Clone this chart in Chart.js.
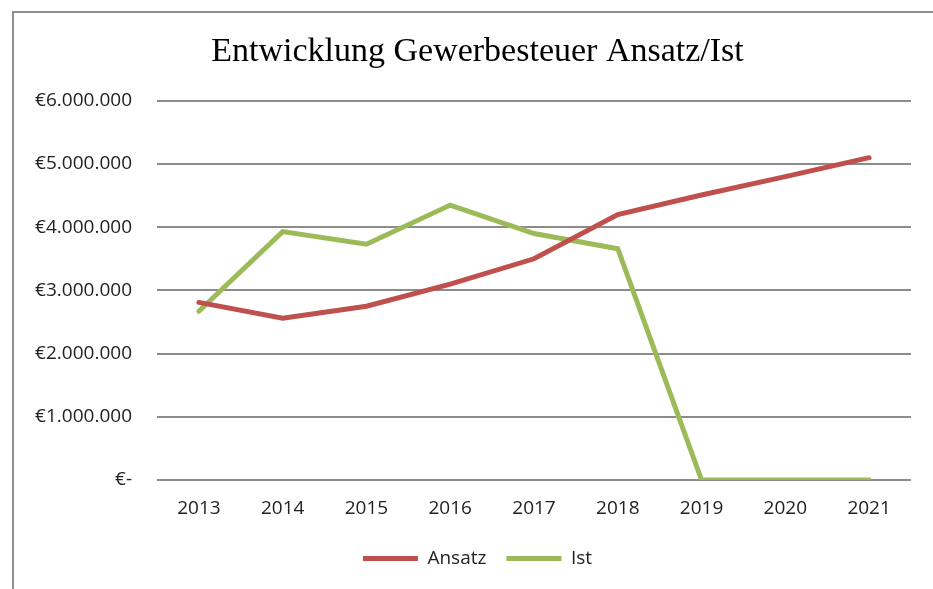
<!DOCTYPE html>
<html>
<head>
<meta charset="utf-8">
<script src="https://cdn.jsdelivr.net/npm/chart.js@4"></script>
<style>
  html, body { margin: 0; padding: 0; background: #fff; }
  #wrap { position: relative; width: 933px; height: 589px; overflow: hidden; }
  #frame {
    position: absolute; left: 12px; top: 11px; width: 940px; height: 600px;
    border-left: 2px solid #8e8e8e; border-top: 2px solid #8e8e8e;
    pointer-events: none;
  }
</style>
</head>
<body>
<div id="wrap">
  <canvas id="chart" width="933" height="589"></canvas>
  <div id="frame"></div>
</div>
<script>
const years = ['2013', '2014', '2015', '2016', '2017', '2018', '2019', '2020', '2021'];
const ansatz = [2810000, 2560000, 2750000, 3100000, 3500000, 4200000, 4510000, 4800000, 5100000];
const ist = [2670000, 3930000, 3730000, 4350000, 3900000, 3660000, 0, 0, 0];
const yTicks = [0, 1000000, 2000000, 3000000, 4000000, 5000000, 6000000];

function euro(v) {
  if (v === 0) return '€-';
  return '€' + String(Math.round(v)).replace(/\B(?=(\d{3})+(?!\d))/g, '.');
}

const tickFont = { family: '"Open Sans", sans-serif', size: 19 };

new Chart(document.getElementById('chart').getContext('2d'), {
  type: 'line',
  data: {
    labels: years,
    datasets: [
      {
        label: 'Ansatz',
        data: ansatz,
        borderColor: '#c0504d',
        backgroundColor: '#c0504d',
        borderWidth: 5,
        borderCapStyle: 'round',
        pointRadius: 0,
        tension: 0,
        fill: false
      },
      {
        label: 'Ist',
        data: ist,
        borderColor: '#9bbb59',
        backgroundColor: '#9bbb59',
        borderWidth: 5,
        borderCapStyle: 'round',
        pointRadius: 0,
        tension: 0,
        fill: false
      }
    ]
  },
  options: {
    responsive: false,
    animation: false,
    layout: { padding: { left: 22, right: 0, top: 0, bottom: 11 } },
    plugins: {
      title: {
        display: true,
        text: 'Entwicklung Gewerbesteuer Ansatz/Ist',
        color: '#000',
        font: { family: '"Liberation Serif", serif', size: 34, weight: 'normal' },
        padding: { top: 32, bottom: 28 }
      },
      legend: {
        position: 'bottom',
        labels: {
          usePointStyle: true,
          pointStyle: 'line',
          pointStyleWidth: 55,
          boxHeight: 5,
          padding: 20,
          color: '#222',
          font: tickFont
        }
      },
      tooltip: { enabled: false }
    },
    scales: {
      x: {
        offset: true,
        grid: { display: false },
        border: { display: false },
        ticks: { color: '#222', font: tickFont, padding: 9 },
        afterFit: s => { s.height = 49; }
      },
      y: {
        min: 0,
        max: 6000000,
        afterBuildTicks: s => { s.ticks = yTicks.map(v => ({ value: v })); },
        grid: { color: '#8c8c8c', lineWidth: 2, drawTicks: false },
        border: { display: false },
        ticks: { color: '#222', font: tickFont, padding: 25, callback: v => euro(v) },
        afterFit: s => { s.width = 135; }
      },
      pad: {
        position: 'right',
        display: true,
        grid: { display: false },
        border: { display: false },
        ticks: { display: false },
        afterFit: s => { s.width = 22; }
      }
    }
  }
});
</script>
</body>
</html>
